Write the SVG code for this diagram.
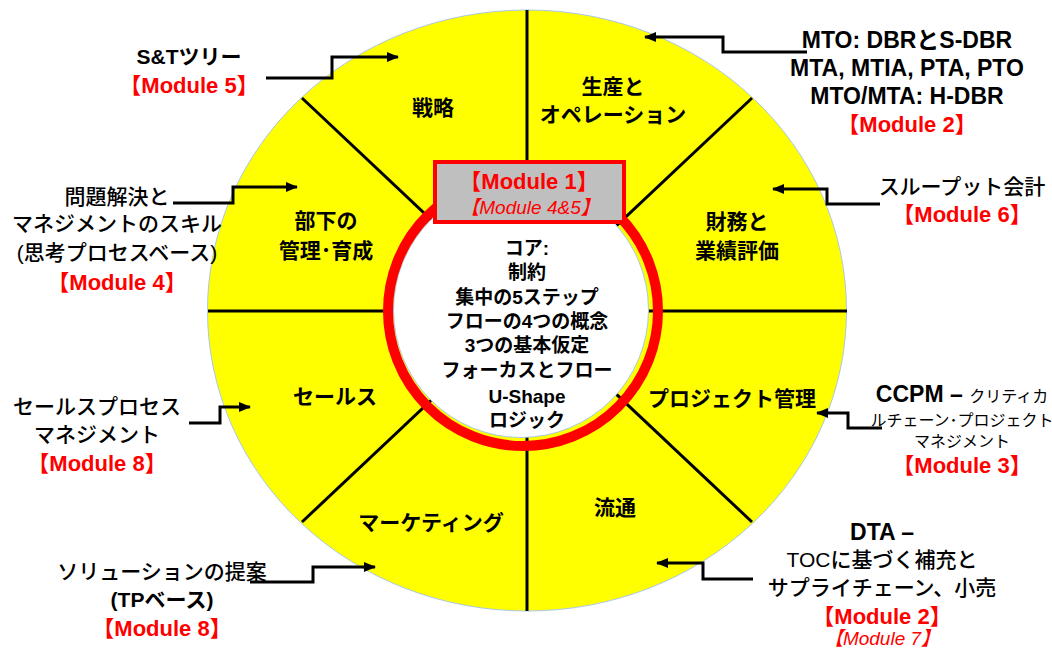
<svg xmlns="http://www.w3.org/2000/svg" width="1052" height="649" viewBox="0 0 1052 649">
<style>
text{font-family:"Liberation Sans","Noto Sans CJK JP",sans-serif;text-anchor:middle;fill:#000}
.sec{font-size:21px;font-weight:bold}
.core{font-size:19px;font-weight:bold}
.out{font-size:21px;font-weight:500}
.b{font-weight:bold}
.big{font-size:23px}
.mod{font-size:22px;font-weight:bold;fill:#FF0000}
.modi{font-size:19px;font-style:italic;fill:#FF0000}
.div{stroke:#000;stroke-width:3;fill:none}
.con{stroke:#000;stroke-width:3;fill:none;marker-end:url(#ah)}
</style>
<defs>
<marker id="ah" markerUnits="userSpaceOnUse" markerWidth="12" markerHeight="10" refX="11" refY="5" orient="auto">
<path d="M0,0 L12,5 L0,10 z" fill="#000"/>
</marker>
</defs>
<g id="wheel">
<ellipse cx="527" cy="310.5" rx="319.5" ry="300.5" fill="#FFFF00" stroke="#A9C8E8" stroke-width="1"/>
<g id="dividers">
<path class="div" d="M527,10 V611"/>
<path class="div" d="M208,311 H847"/>
<path class="div" d="M302,98 L752,522"/>
<path class="div" d="M752,98 L302,522"/>
</g>
<circle cx="521" cy="310" r="127.5" fill="#FFFFFF" stroke="#A9C8E8" stroke-width="1"/>
<circle cx="523" cy="311" r="135" fill="none" stroke="#FF0000" stroke-width="10"/>
</g>
<g id="module1">
<rect x="435" y="162" width="189" height="60" fill="#BFBFBF" stroke="#FF0000" stroke-width="4"/>
<text class="mod" x="529" y="189">【Module 1】</text>
<text class="modi" x="530" y="214">【Module 4&amp;5】</text>
</g>
<g id="core">
<text class="core" x="527" y="255">コア:</text>
<text class="core" x="527" y="279">制約</text>
<text class="core" x="527" y="304">集中の5ステップ</text>
<text class="core" x="527" y="328">フローの4つの概念</text>
<text class="core" x="527" y="352">3つの基本仮定</text>
<text class="core" x="527" y="377">フォーカスとフロー</text>
<text class="core" x="527" y="403">U-Shape</text>
<text class="core" x="527" y="427">ロジック</text>
</g>
<g id="sector-strategy"><text class="sec" x="433" y="115">戦略</text></g>
<g id="sector-production"><text class="sec" x="613" y="94">生産と</text><text class="sec" x="613" y="122">オペレーション</text></g>
<g id="sector-finance"><text class="sec" x="737" y="229">財務と</text><text class="sec" x="737" y="258">業績評価</text></g>
<g id="sector-people"><text class="sec" x="326" y="228">部下の</text><text class="sec" x="326" y="258">管理･育成</text></g>
<g id="sector-sales"><text class="sec" x="335" y="404">セールス</text></g>
<g id="sector-project"><text class="sec" x="732" y="406">プロジェクト管理</text></g>
<g id="sector-marketing"><text class="sec" x="431" y="530">マーケティング</text></g>
<g id="sector-distribution"><text class="sec" x="615" y="515">流通</text></g>

<g id="note-st">
<text class="out b" x="189" y="64">S&amp;Tツリー</text>
<text class="mod" x="189" y="93">【Module 5】</text>
</g>
<g id="note-problem">
<text class="out" x="117" y="204">問題解決と</text>
<text class="out" x="117" y="231">マネジメントのスキル</text>
<text class="out" x="117" y="260">(思考プロセスベース)</text>
<text class="mod" x="117" y="290">【Module 4】</text>
</g>
<g id="note-salesprocess">
<text class="out" x="97" y="414">セールスプロセス</text>
<text class="out" x="97" y="442">マネジメント</text>
<text class="mod" x="97" y="471">【Module 8】</text>
</g>
<g id="note-solution">
<text class="out" x="162" y="579">ソリューションの提案</text>
<text class="out b" x="162" y="607">(TPベース)</text>
<text class="mod" x="162" y="636">【Module 8】</text>
</g>
<g id="note-mto">
<text class="out b big" x="907" y="48">MTO: DBRとS-DBR</text>
<text class="out b big" x="907" y="76">MTA, MTIA, PTA, PTO</text>
<text class="out b big" x="907" y="104">MTO/MTA: H-DBR</text>
<text class="mod" x="907" y="132">【Module 2】</text>
</g>
<g id="note-throughput">
<text class="out" x="962" y="194">スループット会計</text>
<text class="mod" x="962" y="222">【Module 6】</text>
</g>
<g id="note-ccpm">
<text x="962" y="402"><tspan font-size="23" font-weight="bold">CCPM – </tspan><tspan font-size="16">クリティカ</tspan></text>
<text x="962" y="426" font-size="16">ルチェーン･プロジェクト</text>
<text x="962" y="447" font-size="16">マネジメント</text>
<text class="mod" x="962" y="473">【Module 3】</text>
</g>
<g id="note-dta">
<text class="out b big" x="882" y="540">DTA –</text>
<text class="out" x="882" y="567">TOCに基づく補充と</text>
<text class="out" x="882" y="595">サプライチェーン、小売</text>
<text class="mod" x="882" y="624">【Module 2】</text>
<text class="modi" x="882" y="645">【Module 7】</text>
</g>

<g id="connectors">
<path class="con" d="M266,78 H332 V57 H398"/>
<path class="con" d="M173,203 H233 V187 H297"/>
<path class="con" d="M189,423 H220 V407 H250"/>
<path class="con" d="M250,582 H313 V567 H375"/>
<path class="con" d="M807,52 H723 V37 H645"/>
<path class="con" d="M880,204 H827 V189 H773"/>
<path class="con" d="M882,428 H848 V413 H817"/>
<path class="con" d="M753,579 H703 V563 H657"/>
</g>
</svg>
